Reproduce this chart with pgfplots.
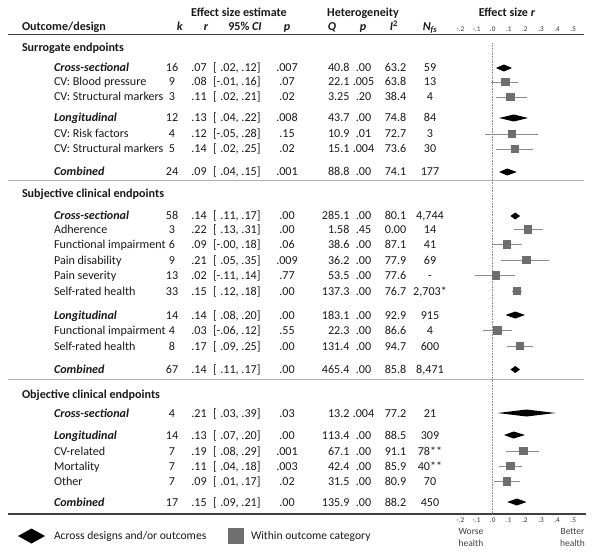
\documentclass[border=0pt]{standalone}
\usepackage{pgfplots}
\pgfplotsset{compat=1.18}
\usepackage{pgfplotstable}
\usepackage{fontspec}
\setmainfont{Carlito}
\definecolor{sqgray}{RGB}{110,110,110}
\definecolor{cigray}{RGB}{140,140,140}
\definecolor{txt}{RGB}{25,25,25}

% squares: y (negative pixel row), r, lower, upper
\pgfplotstableread{
y r lo hi
-82 0.08 -0.01 0.16
-97 0.11 0.02 0.21
-134 0.12 -0.05 0.28
-149 0.14 0.02 0.25
-229.5 0.22 0.13 0.31
-244.5 0.09 -0.00 0.18
-260 0.21 0.05 0.35
-275.5 0.02 -0.11 0.14
-291 0.15 0.12 0.18
-330.5 0.03 -0.06 0.12
-346 0.17 0.09 0.25
-451 0.19 0.08 0.29
-466 0.11 0.04 0.18
-481.5 0.09 0.01 0.17
}\sqtab

\newcommand{\p}{\phantom{-}}
\newcommand{\rowN}[9]{%
  \node[anchor=base] at (172,#1+4) {#2};
  \node[anchor=base] at (199,#1+4) {#3};
  \node[anchor=base west] at (213,#1+4) {#4};
  \node[anchor=base] at (287,#1+4) {#5};
  \node[anchor=base east] at (349.5,#1+4) {#6};
  \node[anchor=base] at (363.5,#1+4) {#7};
  \node[anchor=base] at (395.5,#1+4) {#8};
  \node[anchor=base] at (430,#1+4) {#9};
}
\newcommand{\lab}[2]{\node[anchor=base west] at (54,#1+4) {#2};}
\newcommand{\dlab}[2]{\node[anchor=base west] at (54,#1+4) {\textbf{\textit{#2}}};}
\newcommand{\sect}[2]{\node[anchor=base west] at (22,#1+4) {\textbf{#2}};}

\begin{document}
\begin{tikzpicture}[x=1bp,y=-1bp]
\path[use as bounding box] (0,0) rectangle (600,558);

% rules
\draw[line width=1.4bp, black!75] (8,34.5) -- (584,34.5);
\draw[line width=0.8bp, black!30] (8,180) -- (584,180);
\draw[line width=0.8bp, black!30] (8,379) -- (584,379);
\draw[line width=1.4bp, black!75] (8,514) -- (586,514);

\begin{scope}[every node/.style={inner sep=0pt, outer sep=0pt, text=txt, font=\fontsize{12.1bp}{14bp}\selectfont}]
% headers
\node[anchor=base] at (239,16.4) {\textbf{Effect size estimate}};
\node[anchor=base] at (363,16.4) {\textbf{Heterogeneity}};
\node[anchor=base] at (507,16.4) {\textbf{Effect size \textit{r}}};
\node[anchor=base west] at (22,30.7) {\textbf{Outcome/design}};
\node[anchor=base] at (180,30.7) {\textbf{\textit{k}}};
\node[anchor=base] at (206,30.7) {\textbf{\textit{r}}};
\node[anchor=base] at (245,30.7) {\textbf{95\% \textit{CI}}};
\node[anchor=base] at (287,30.7) {\textbf{\textit{p}}};
\node[anchor=base] at (332,30.7) {\textbf{\textit{Q}}};
\node[anchor=base] at (363,30.7) {\textbf{\textit{p}}};
\node[anchor=base] at (394,30.7) {\textbf{\textit{I}\textsuperscript{2}}};
\node[anchor=base] at (430,30.7) {\textbf{\textit{N}\textsubscript{\textit{fs}}}};

% Surrogate
\sect{48}{Surrogate endpoints}
\dlab{68}{Cross-sectional}   \rowN{68}{16}{.07}{[\p.02, .12]}{.007}{40.8}{.00}{63.2}{59}
\lab{82}{CV: Blood pressure}  \rowN{82}{9}{.08}{[-.01, .16]}{.07}{22.1}{.005}{63.8}{13}
\lab{97}{CV: Structural markers} \rowN{97}{3}{.11}{[\p.02, .21]}{.02}{3.25}{.20}{38.4}{4}
\dlab{118}{Longitudinal}     \rowN{118}{12}{.13}{[\p.04, .22]}{.008}{43.7}{.00}{74.8}{84}
\lab{134}{CV: Risk factors}   \rowN{134}{4}{.12}{[-.05, .28]}{.15}{10.9}{.01}{72.7}{3}
\lab{149}{CV: Structural markers} \rowN{149}{5}{.14}{[\p.02, .25]}{.02}{15.1}{.004}{73.6}{30}
\dlab{172}{Combined}         \rowN{172}{24}{.09}{[\p.04, .15]}{.001}{88.8}{.00}{74.1}{177}
% Subjective
\sect{194}{Subjective clinical endpoints}
\dlab{216}{Cross-sectional}  \rowN{216}{58}{.14}{[\p.11, .17]}{.00}{285.1}{.00}{80.1}{4,744}
\lab{229.5}{Adherence}       \rowN{229.5}{3}{.22}{[\p.13, .31]}{.00}{1.58}{.45}{0.00}{14}
\lab{244.5}{Functional impairment} \rowN{244.5}{6}{.09}{[-.00, .18]}{.06}{38.6}{.00}{87.1}{41}
\lab{260}{Pain disability}   \rowN{260}{9}{.21}{[\p.05, .35]}{.009}{36.2}{.00}{77.9}{69}
\lab{275.5}{Pain severity}   \rowN{275.5}{13}{.02}{[-.11, .14]}{.77}{53.5}{.00}{77.6}{-}
\lab{291}{Self-rated health} \rowN{291}{33}{.15}{[\p.12, .18]}{.00}{137.3}{.00}{76.7}{2,703*}
\dlab{315}{Longitudinal}     \rowN{315}{14}{.14}{[\p.08, .20]}{.00}{183.1}{.00}{92.9}{915}
\lab{330.5}{Functional impairment} \rowN{330.5}{4}{.03}{[-.06, .12]}{.55}{22.3}{.00}{86.6}{4}
\lab{346}{Self-rated health} \rowN{346}{8}{.17}{[\p.09, .25]}{.00}{131.4}{.00}{94.7}{600}
\dlab{369.5}{Combined}       \rowN{369.5}{67}{.14}{[\p.11, .17]}{.00}{465.4}{.00}{85.8}{8,471}
% Objective
\sect{394}{Objective clinical endpoints}
\dlab{413}{Cross-sectional}  \rowN{413}{4}{.21}{[\p.03, .39]}{.03}{13.2}{.004}{77.2}{21}
\dlab{435}{Longitudinal}     \rowN{435}{14}{.13}{[\p.07, .20]}{.00}{113.4}{.00}{88.5}{309}
\lab{451}{CV-related}        \rowN{451}{7}{.19}{[\p.08, .29]}{.001}{67.1}{.00}{91.1}{78**}
\lab{466}{Mortality}         \rowN{466}{7}{.11}{[\p.04, .18]}{.003}{42.4}{.00}{85.9}{40**}
\lab{481.5}{Other}           \rowN{481.5}{7}{.09}{[\p.01, .17]}{.02}{31.5}{.00}{80.9}{70}
\dlab{502}{Combined}         \rowN{502}{17}{.15}{[\p.09, .21]}{.00}{135.9}{.00}{88.2}{450}

% legend
\begin{scope}[every node/.append style={font=\fontsize{11.6bp}{13bp}\selectfont}]
\fill[black] (18,536) -- (31.5,528.5) -- (45,536) -- (31.5,543.5) -- cycle;
\node[anchor=base west] at (54,539.9) {Across designs and/or outcomes};
\fill[sqgray] (228,527.5) rectangle (244,543.5);
\node[anchor=base west] at (251,539.9) {Within outcome category};
\end{scope}

% worse/better
\begin{scope}[every node/.append style={font=\fontsize{9.5bp}{11bp}\selectfont, text=black!75}]
\node[anchor=base] at (471,534.2) {Worse};
\node[anchor=base] at (471,546.6) {health};
\node[anchor=base] at (572.5,534.2) {Better};
\node[anchor=base] at (572.5,546.6) {health};
\end{scope}
\end{scope}

% forest plot axis
\begin{axis}[
  at={(516.85bp,-274.25bp)}, anchor=center,
  scale only axis, width=112.7bp, height=479.5bp,
  xmin=-0.2, xmax=0.5, ymin=-514, ymax=-34.5,
  clip=false,
  axis x line*=bottom, axis y line=none,
  axis line style={draw=none},
  major tick length=0pt,
  xtick={-0.2,-0.1,0,0.1,0.2,0.3,0.4,0.5},
  xticklabels={-.2,-.1,.0,.1,.2,.3,.4,.5},
  xticklabel style={font=\fontsize{7.2bp}{8bp}\selectfont, text=black!80, inner sep=0pt, yshift=-3.5bp},
]
\addplot[cigray, line width=0.6bp, densely dotted] coordinates {(0,-43) (0,-514)};
% diamonds: lower CI, estimate, upper CI
\addplot[fill=black, draw=none] coordinates {(0.02,-68) (0.07,-64.5) (0.12,-68) (0.07,-71.5)} --cycle;
\addplot[fill=black, draw=none] coordinates {(0.04,-118) (0.13,-114.5) (0.22,-118) (0.13,-121.5)} --cycle;
\addplot[fill=black, draw=none] coordinates {(0.04,-172) (0.09,-168.5) (0.15,-172) (0.09,-175.5)} --cycle;
\addplot[fill=black, draw=none] coordinates {(0.11,-216) (0.14,-212.5) (0.17,-216) (0.14,-219.5)} --cycle;
\addplot[fill=black, draw=none] coordinates {(0.08,-315) (0.14,-311.5) (0.20,-315) (0.14,-318.5)} --cycle;
\addplot[fill=black, draw=none] coordinates {(0.11,-369.5) (0.14,-366) (0.17,-369.5) (0.14,-373)} --cycle;
\addplot[fill=black, draw=none] coordinates {(0.03,-413) (0.21,-409.5) (0.39,-413) (0.21,-416.5)} --cycle;
\addplot[fill=black, draw=none] coordinates {(0.07,-435) (0.13,-431.5) (0.20,-435) (0.13,-438.5)} --cycle;
\addplot[fill=black, draw=none] coordinates {(0.09,-502) (0.15,-498.5) (0.21,-502) (0.15,-505.5)} --cycle;
% squares with CIs
\addplot[only marks, mark=square*, mark size=3.7bp,
  mark options={fill=sqgray, draw=sqgray, line width=0pt},
  error bars/.cd, x dir=both, x explicit, error mark=none,
  error bar style={cigray, line width=0.6bp, solid}]
  table[x=r, y=y, x error plus expr=\thisrow{hi}-\thisrow{r}, x error minus expr=\thisrow{r}-\thisrow{lo}] {\sqtab};
\end{axis}

% top tick labels
\begin{axis}[
  at={(516.85bp,-274.25bp)}, anchor=center,
  scale only axis, width=112.7bp, height=479.5bp,
  xmin=-0.2, xmax=0.5, ymin=-514, ymax=-34.5,
  axis x line*=top, axis y line=none,
  axis line style={draw=none},
  major tick length=0pt,
  xtick={-0.2,-0.1,0,0.1,0.2,0.3,0.4,0.5},
  xticklabels={-.2,-.1,.0,.1,.2,.3,.4,.5},
  xticklabel style={font=\fontsize{7.2bp}{8bp}\selectfont, text=black!80, inner sep=0pt, yshift=2.5bp},
]
\end{axis}
\end{tikzpicture}
\end{document}
